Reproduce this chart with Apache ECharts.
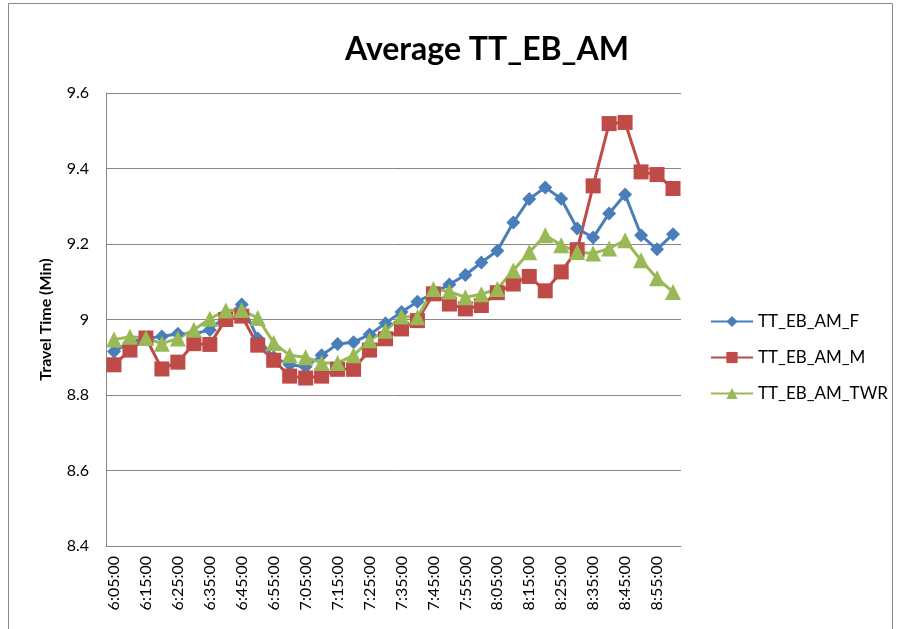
<!DOCTYPE html>
<html>
<head>
<meta charset="utf-8">
<script src="https://cdn.jsdelivr.net/npm/echarts@6/dist/echarts.min.js"></script>
<style>
  html, body { margin: 0; padding: 0; background: #fff; }
  #main { width: 899px; height: 629px; }
</style>
</head>
<body>
<div id="main"></div>
<script>
// 5-minute bins, 6:05 - 9:00
var times = ['6:05:00', '6:10:00', '6:15:00', '6:20:00', '6:25:00', '6:30:00', '6:35:00', '6:40:00',
  '6:45:00', '6:50:00', '6:55:00', '7:00:00', '7:05:00', '7:10:00', '7:15:00', '7:20:00',
  '7:25:00', '7:30:00', '7:35:00', '7:40:00', '7:45:00', '7:50:00', '7:55:00', '8:00:00',
  '8:05:00', '8:10:00', '8:15:00', '8:20:00', '8:25:00', '8:30:00', '8:35:00', '8:40:00',
  '8:45:00', '8:50:00', '8:55:00', '9:00:00'];

var ttF = [8.915, 8.94, 8.95, 8.955, 8.962, 8.962, 8.972, 9.01, 9.04, 8.95, 8.9, 8.88,
  8.875, 8.905, 8.935, 8.94, 8.96, 8.99, 9.02, 9.047, 9.07, 9.093, 9.118, 9.151,
  9.182, 9.257, 9.319, 9.35, 9.32, 9.241, 9.217, 9.281, 9.331, 9.223, 9.186, 9.226];

var ttM = [8.88, 8.919, 8.951, 8.869, 8.887, 8.936, 8.934, 9.0, 9.009, 8.932, 8.892, 8.85,
  8.845, 8.85, 8.868, 8.868, 8.919, 8.949, 8.975, 8.997, 9.068, 9.041, 9.028, 9.037,
  9.071, 9.094, 9.114, 9.076, 9.126, 9.185, 9.354, 9.519, 9.522, 9.391, 9.384, 9.347];

var ttTWR = [8.947, 8.954, 8.951, 8.936, 8.95, 8.973, 9.002, 9.024, 9.025, 9.004, 8.938, 8.905,
  8.9, 8.885, 8.885, 8.905, 8.945, 8.97, 9.008, 9.006, 9.081, 9.074, 9.059, 9.067,
  9.081, 9.13, 9.178, 9.223, 9.197, 9.179, 9.175, 9.188, 9.21, 9.157, 9.109, 9.073];

var yTicks = [8.4, 8.6, 8.8, 9, 9.2, 9.4, 9.6];

var font = 'Lato, "DejaVu Sans", sans-serif';
var chart = echarts.init(document.getElementById('main'));

chart.setOption({
  animation: false,
  backgroundColor: '#fff',
  textStyle: { fontFamily: font, color: '#000' },
  title: {
    text: 'Average TT_EB_AM',
    left: 482,
    top: 29,
    textAlign: 'center',
    textStyle: { fontFamily: font, fontSize: 32, fontWeight: 'bold', color: '#000' }
  },
  graphic: [{
    type: 'rect',
    shape: { x: 8.5, y: 3.5, width: 884, height: 640 },
    style: { fill: 'none', stroke: '#888', lineWidth: 1 },
    silent: true
  }],
  legend: {
    orient: 'vertical',
    left: 705,
    top: 308,
    itemWidth: 42,
    itemHeight: 14,
    itemGap: 19,
    textStyle: { fontFamily: font, fontSize: 17, color: '#000' },
    data: ['TT_EB_AM_F', 'TT_EB_AM_M', 'TT_EB_AM_TWR']
  },
  grid: { left: 106, right: 218, top: 93, bottom: 83 },
  xAxis: {
    type: 'category',
    data: times,
    boundaryGap: true,
    axisLine: { lineStyle: { color: '#868686' } },
    axisTick: { show: false },
    axisLabel: {
      interval: 1,
      rotate: 90,
      margin: 10,
      fontFamily: font,
      fontSize: 16,
      color: '#000'
    }
  },
  yAxis: {
    type: 'value',
    min: yTicks[0],
    max: yTicks[yTicks.length - 1],
    interval: 0.2,
    name: 'Travel Time (Min)',
    nameLocation: 'middle',
    nameGap: 52,
    nameTextStyle: { fontFamily: font, fontSize: 16, fontWeight: 'bold', color: '#000' },
    axisLine: { show: true, lineStyle: { color: '#868686' } },
    axisTick: { show: false },
    axisLabel: { margin: 17, fontFamily: font, fontSize: 16, color: '#000' },
    splitLine: { lineStyle: { color: '#868686' } }
  },
  series: [
    {
      name: 'TT_EB_AM_F',
      type: 'line',
      data: ttF,
      symbol: 'diamond',
      symbolSize: 14,
      showAllSymbol: true,
      itemStyle: { color: '#4a7ebb' },
      lineStyle: { width: 3, color: '#4a7ebb' }
    },
    {
      name: 'TT_EB_AM_M',
      type: 'line',
      data: ttM,
      symbol: 'rect',
      symbolSize: 15,
      showAllSymbol: true,
      itemStyle: { color: '#be4b48' },
      lineStyle: { width: 3, color: '#be4b48' }
    },
    {
      name: 'TT_EB_AM_TWR',
      type: 'line',
      data: ttTWR,
      symbol: 'triangle',
      symbolSize: 16,
      showAllSymbol: true,
      itemStyle: { color: '#98b954' },
      lineStyle: { width: 3, color: '#98b954' }
    }
  ]
});
</script>
</body>
</html>
